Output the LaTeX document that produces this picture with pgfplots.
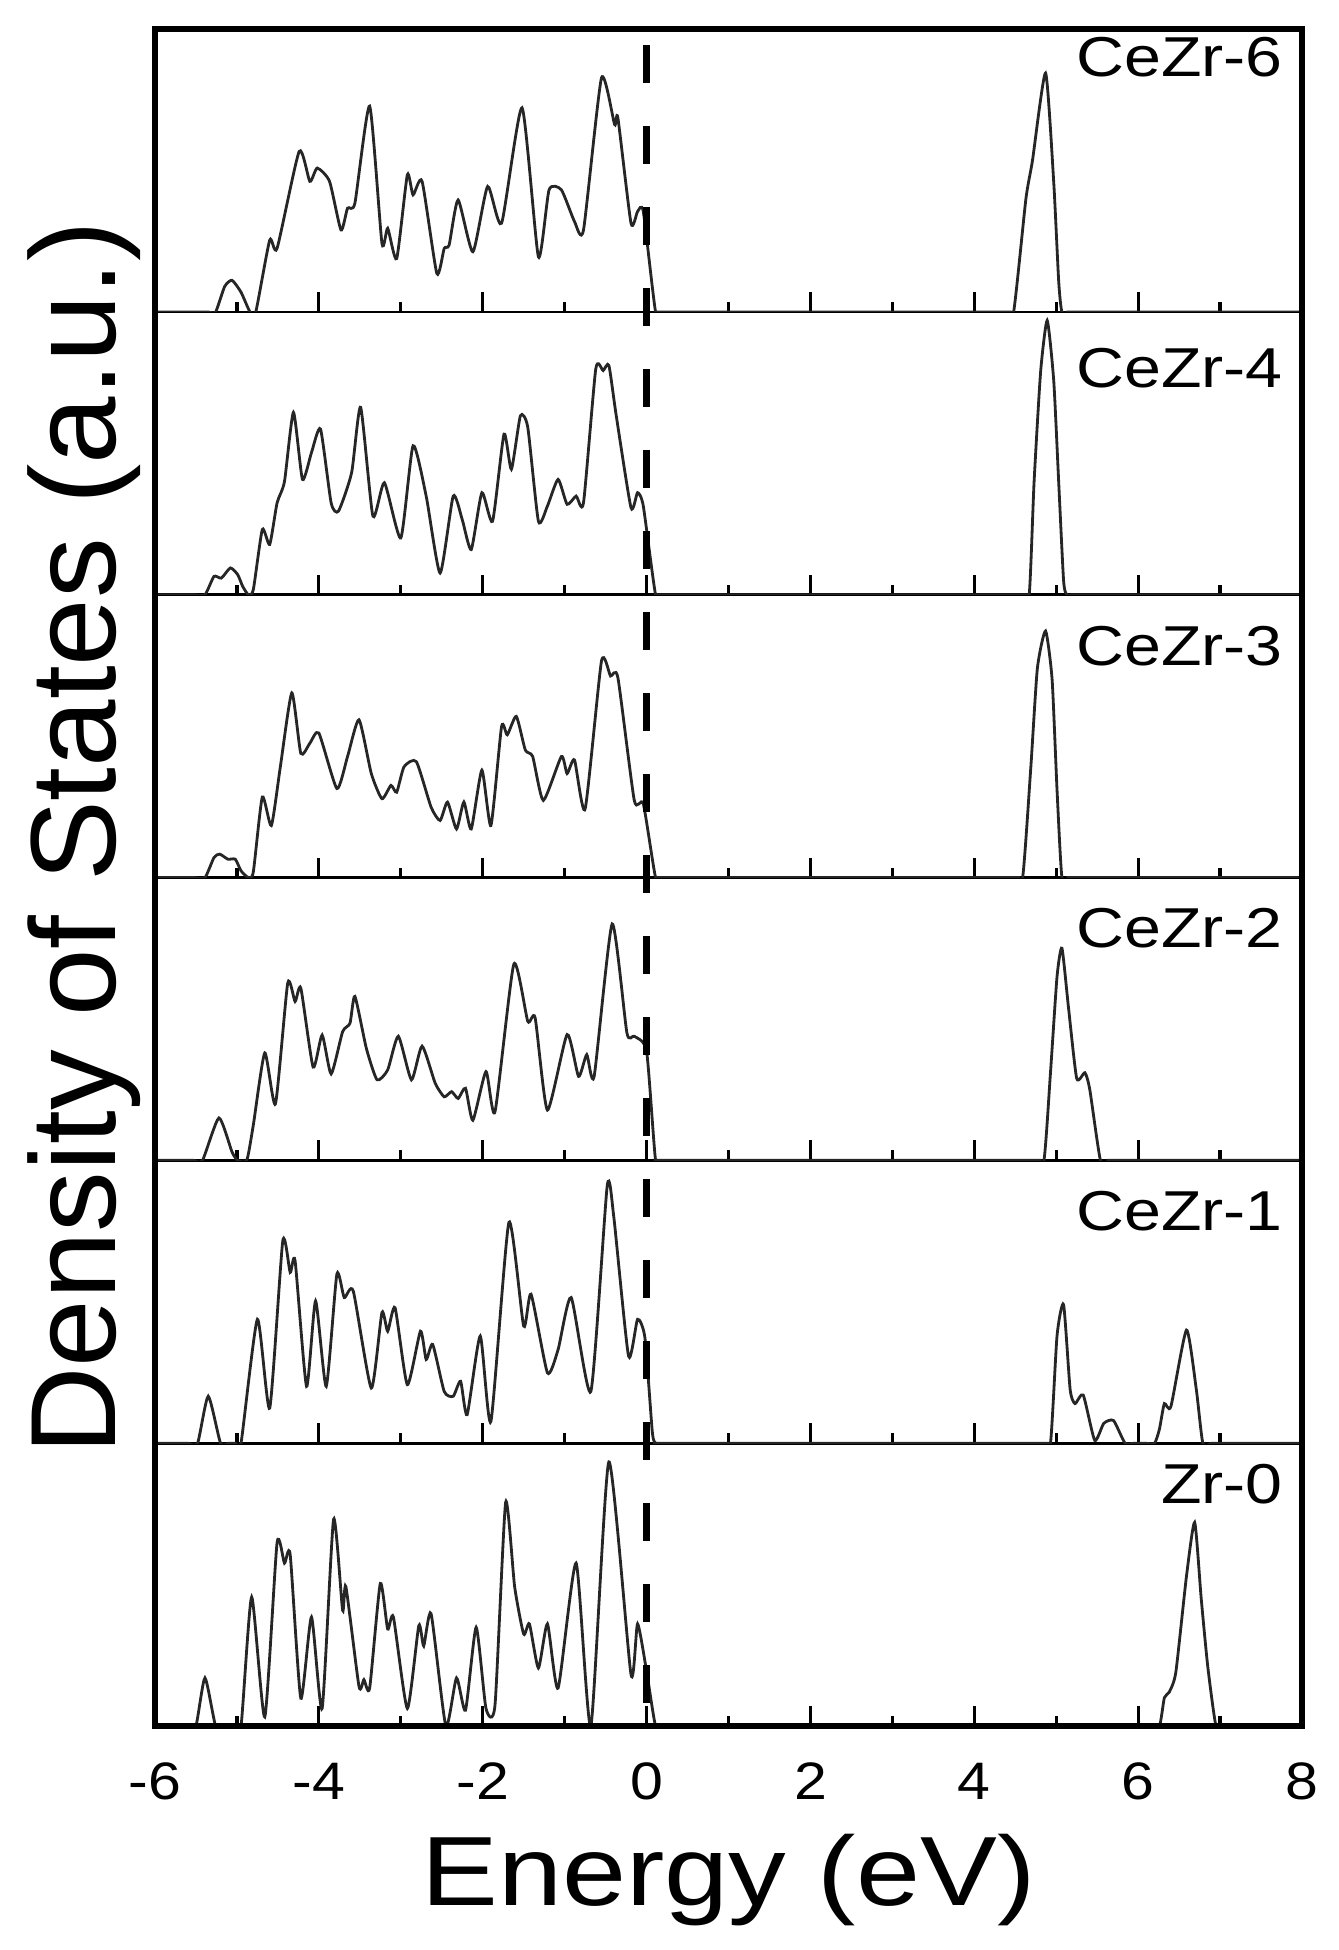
\documentclass[border=0pt]{standalone}
\usepackage{pgfplots}
\pgfplotsset{compat=1.18}
\usepackage{fontspec}
\setmainfont{Liberation Sans}

\pgfplotsset{
  panel/.style={
    scale only axis, width=114.7mm, height=28.28mm,
    xmin=-6, xmax=8, ymin=0, ymax=1,
    xtick={-6,-4,...,8}, minor xtick={-5,-3,...,7},
    xtick pos=bottom, ytick=\empty,
    tick align=inside,
    major tick length=2mm, minor tick length=1mm,
    every tick/.style={black, line width=0.9pt},
    axis line style={line width=0.8pt},
    xticklabels={},
    anchor=south west,
  },
  dos/.style={black!85, line width=0.8pt, smooth, tension=0.35, mark=none},
}
\tikzset{lab/.style={anchor=east, inner sep=0pt, font=\fontsize{16}{19}\selectfont, xscale=1.18}}

\begin{document}
\begin{tikzpicture}
\useasboundingbox (0,0) rectangle (133.9mm,195mm);

% Zr-0 (bottom)
\begin{axis}[panel, at={(15.5mm,22.4mm)},
  xticklabels={-6,-4,-2,0,2,4,6,8},
  xticklabel style={anchor=base, yshift=-7.3mm, font=\fontsize{15}{18}\selectfont, xscale=1.12}]
\addplot[dos] coordinates {(-6,0) (-5.7,0) (-5.6,0) (-5.50,0) (-5.39,0.170) (-5.26,0) (-5.15,0) (-5.05,0) (-4.95,0) (-4.82,0.456) (-4.66,0.032) (-4.51,0.648) (-4.42,0.576) (-4.35,0.606) (-4.22,0.098) (-4.09,0.385) (-3.96,0.062) (-3.82,0.731) (-3.71,0.409) (-3.67,0.493) (-3.51,0.140) (-3.45,0.164) (-3.38,0.134) (-3.25,0.504) (-3.16,0.343) (-3.09,0.385) (-2.92,0.062) (-2.78,0.355) (-2.72,0.283) (-2.63,0.397) (-2.45,0) (-2.32,0.170) (-2.21,0.056) (-2.08,0.349) (-1.96,0.062) (-1.85,0.074) (-1.72,0.791) (-1.61,0.492) (-1.50,0.325) (-1.43,0.361) (-1.32,0.205) (-1.21,0.361) (-1.08,0.134) (-0.86,0.576) (-0.68,0) (-0.46,0.934) (-0.19,0.182) (-0.11,0.361) (0.00,0.194) (0.11,0) (0.22,0) (0.35,0) (6.0,0) (6.13,0) (6.26,0) (6.32,0.10) (6.38,0.12) (6.46,0.19) (6.59,0.53) (6.69,0.72) (6.77,0.45) (6.85,0.21) (6.95,0) (7.05,0) (7.15,0) (8,0)};
\node[lab] at (rel axis cs:0.984,0.854) {Zr-0};
\end{axis}

% CeZr-1
\begin{axis}[panel, at={(15.5mm,50.68mm)}]
\addplot[dos] coordinates {(-6,0) (-5.7,0) (-5.6,0) (-5.48,0) (-5.35,0.166) (-5.2,0) (-5.1,0) (-5.02,0) (-4.95,0) (-4.75,0.438) (-4.60,0.124) (-4.44,0.716) (-4.35,0.604) (-4.29,0.645) (-4.15,0.201) (-4.04,0.503) (-3.91,0.201) (-3.78,0.598) (-3.69,0.515) (-3.58,0.538) (-3.36,0.195) (-3.23,0.462) (-3.16,0.396) (-3.07,0.479) (-2.92,0.207) (-2.76,0.396) (-2.69,0.296) (-2.61,0.349) (-2.47,0.183) (-2.36,0.166) (-2.27,0.219) (-2.19,0.101) (-2.03,0.379) (-1.90,0.077) (-1.68,0.781) (-1.50,0.414) (-1.41,0.527) (-1.21,0.249) (-1.08,0.331) (-0.92,0.515) (-0.68,0.183) (-0.48,0.911) (-0.40,0.80) (-0.22,0.308) (-0.11,0.438) (-0.02,0.373) (0.07,0.04) (0.11,0) (0.2,0) (0.3,0) (4.7,0) (4.82,0) (4.93,0) (5.01,0.38) (5.09,0.49) (5.17,0.19) (5.23,0.14) (5.33,0.17) (5.47,0.01) (5.58,0.07) (5.70,0.08) (5.84,0) (5.95,0) (6.08,0) (6.20,0) (6.26,0.05) (6.32,0.14) (6.40,0.13) (6.59,0.40) (6.71,0.19) (6.79,0) (6.9,0) (7.0,0) (8,0)};
\node[lab] at (rel axis cs:0.984,0.82) {CeZr-1};
\end{axis}

% CeZr-2
\begin{axis}[panel, at={(15.5mm,78.96mm)}]
\addplot[dos] coordinates {(-6,0) (-5.65,0) (-5.53,0) (-5.42,0) (-5.22,0.15) (-5.06,0.03) (-4.99,0) (-4.88,0) (-4.80,0.125) (-4.66,0.38) (-4.53,0.20) (-4.38,0.627) (-4.29,0.562) (-4.22,0.609) (-4.07,0.33) (-3.96,0.443) (-3.85,0.306) (-3.71,0.455) (-3.62,0.485) (-3.56,0.58) (-3.42,0.396) (-3.29,0.285) (-3.16,0.320) (-3.03,0.439) (-2.87,0.285) (-2.74,0.404) (-2.58,0.273) (-2.47,0.225) (-2.38,0.243) (-2.30,0.219) (-2.21,0.255) (-2.12,0.142) (-1.96,0.314) (-1.85,0.172) (-1.62,0.694) (-1.45,0.492) (-1.36,0.504) (-1.21,0.178) (-0.97,0.445) (-0.83,0.297) (-0.73,0.374) (-0.64,0.297) (-0.42,0.836) (-0.24,0.451) (-0.15,0.439) (0.00,0.386) (0.11,0) (0.2,0) (0.3,0) (4.6,0) (4.72,0) (4.85,0) (4.93,0.31) (5.01,0.65) (5.07,0.75) (5.15,0.54) (5.25,0.29) (5.35,0.31) (5.41,0.25) (5.54,0) (5.65,0) (5.75,0) (8,0)};
\node[lab] at (rel axis cs:0.984,0.82) {CeZr-2};
\end{axis}

% CeZr-3
\begin{axis}[panel, at={(15.5mm,107.24mm)}]
\addplot[dos] coordinates {(-6,0) (-5.65,0) (-5.52,0) (-5.39,0) (-5.28,0.071) (-5.21,0.083) (-5.11,0.065) (-5.02,0.065) (-4.95,0.024) (-4.86,0) (-4.80,0.02) (-4.69,0.285) (-4.58,0.184) (-4.47,0.392) (-4.33,0.653) (-4.22,0.439) (-4.11,0.475) (-4.00,0.511) (-3.78,0.315) (-3.65,0.428) (-3.51,0.558) (-3.36,0.368) (-3.23,0.279) (-3.12,0.326) (-3.05,0.302) (-2.96,0.392) (-2.81,0.410) (-2.63,0.249) (-2.52,0.202) (-2.43,0.267) (-2.32,0.172) (-2.23,0.267) (-2.14,0.172) (-2.01,0.380) (-1.90,0.184) (-1.77,0.534) (-1.70,0.505) (-1.59,0.570) (-1.48,0.451) (-1.39,0.428) (-1.26,0.273) (-1.04,0.428) (-0.97,0.368) (-0.88,0.416) (-0.75,0.243) (-0.55,0.766) (-0.44,0.713) (-0.35,0.707) (-0.15,0.273) (-0.04,0.261) (0.11,0) (0.2,0) (0.3,0) (4.35,0) (4.47,0) (4.59,0) (4.69,0.39) (4.77,0.74) (4.87,0.872) (4.95,0.70) (5.01,0.31) (5.07,0) (5.17,0) (5.27,0) (8,0)};
\node[lab] at (rel axis cs:0.984,0.82) {CeZr-3};
\end{axis}

% CeZr-4
\begin{axis}[panel, at={(15.5mm,135.52mm)}]
\addplot[dos] coordinates {(-6,0) (-5.65,0) (-5.52,0) (-5.39,0) (-5.28,0.065) (-5.19,0.059) (-5.08,0.095) (-4.99,0.071) (-4.93,0.03) (-4.86,0) (-4.80,0.018) (-4.69,0.231) (-4.60,0.178) (-4.51,0.325) (-4.42,0.40) (-4.31,0.645) (-4.20,0.408) (-4.09,0.503) (-3.98,0.586) (-3.85,0.325) (-3.76,0.296) (-3.60,0.432) (-3.49,0.663) (-3.34,0.278) (-3.20,0.396) (-3.00,0.201) (-2.85,0.527) (-2.69,0.349) (-2.52,0.077) (-2.36,0.349) (-2.25,0.266) (-2.14,0.160) (-2.01,0.361) (-1.88,0.260) (-1.74,0.568) (-1.65,0.444) (-1.54,0.633) (-1.45,0.592) (-1.32,0.260) (-1.21,0.314) (-1.08,0.408) (-0.97,0.320) (-0.86,0.349) (-0.77,0.325) (-0.62,0.799) (-0.53,0.793) (-0.46,0.811) (-0.37,0.633) (-0.19,0.308) (-0.11,0.361) (-0.04,0.314) (0.11,0) (0.2,0) (0.3,0) (4.45,0) (4.56,0) (4.67,0) (4.73,0.40) (4.81,0.79) (4.89,0.97) (4.97,0.756) (5.03,0.40) (5.09,0.05) (5.13,0) (5.22,0) (5.32,0) (8,0)};
\node[lab] at (rel axis cs:0.984,0.80) {CeZr-4};
\end{axis}

% CeZr-6 (top)
\begin{axis}[panel, at={(15.5mm,163.80mm)}]
\addplot[dos] coordinates {(-6,0) (-5.6,0) (-5.45,0) (-5.35,0) (-5.26,0) (-5.15,0.09) (-5.06,0.112) (-4.95,0.07) (-4.84,0) (-4.77,0) (-4.60,0.254) (-4.51,0.225) (-4.24,0.568) (-4.11,0.462) (-4.02,0.509) (-3.87,0.462) (-3.73,0.290) (-3.65,0.367) (-3.56,0.385) (-3.38,0.728) (-3.23,0.243) (-3.16,0.296) (-3.05,0.189) (-2.92,0.485) (-2.85,0.414) (-2.74,0.462) (-2.56,0.136) (-2.47,0.225) (-2.41,0.237) (-2.30,0.396) (-2.12,0.213) (-1.94,0.444) (-1.77,0.314) (-1.52,0.722) (-1.32,0.195) (-1.19,0.432) (-1.04,0.432) (-0.88,0.320) (-0.77,0.290) (-0.55,0.828) (-0.39,0.663) (-0.35,0.686) (-0.19,0.314) (-0.11,0.355) (-0.04,0.355) (0.11,0) (0.2,0) (0.3,0) (4.25,0) (4.37,0) (4.48,0) (4.63,0.40) (4.71,0.535) (4.87,0.845) (4.97,0.457) (5.03,0.11) (5.07,0) (5.17,0) (5.27,0) (8,0)};
\node[lab] at (rel axis cs:0.984,0.90) {CeZr-6};
\end{axis}

% outer frame and Fermi level
\begin{axis}[scale only axis, width=114.7mm, height=169.68mm,
  at={(15.5mm,22.4mm)}, anchor=south west,
  xmin=-6, xmax=8, ymin=0, ymax=1, xtick=\empty, ytick=\empty,
  axis line style={line width=1.6pt}]
\addplot[black, line width=1.8pt, dash pattern=on 3.8mm off 4.3mm, dash phase=6.5mm] coordinates {(0,1) (0,0)};
\end{axis}

\node[anchor=base, font=\fontsize{28}{34}\selectfont, xscale=1.17] at (72.85mm,4.4mm) {Energy (eV)};
\node[rotate=90, anchor=base, font=\fontsize{34.5}{41}\selectfont] at (11.6mm,111.2mm) {Density of States (a.u.)};
\end{tikzpicture}
\end{document}
